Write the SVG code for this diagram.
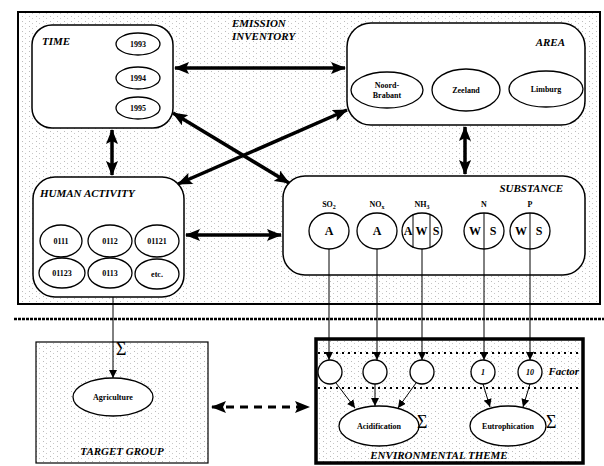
<svg xmlns="http://www.w3.org/2000/svg" width="604" height="466" viewBox="0 0 604 466">
<style>
text{font-family:"Liberation Serif","Times New Roman",serif;font-weight:bold;fill:#000}
.ti{font-style:italic;font-size:11px}
.lab{font-size:8px;text-anchor:middle}
.box{fill:#fff;stroke:#000;stroke-width:1.5}
.ell{fill:#fff;stroke:#000;stroke-width:1.3}
.thick{stroke:#000;stroke-width:3.5;fill:none}
.thin{stroke:#000;stroke-width:1;fill:none}
.sig{font-size:18px;font-weight:normal}
.let{font-size:12px;text-anchor:middle}
</style>
<defs>
<pattern id="stip" width="7" height="5" patternUnits="userSpaceOnUse">
<rect width="7" height="5" fill="#fff"/>
<rect x="1" y="1" width="1" height="1" fill="#bbb"/>
<rect x="4" y="3" width="1" height="1" fill="#c8c8c8"/>
</pattern>
<marker id="ah" markerUnits="userSpaceOnUse" markerWidth="15" markerHeight="12" refX="14" refY="6" orient="auto-start-reverse">
<path d="M0,0 L15,6 L0,12 L3,6 z" fill="#000"/>
</marker>
<marker id="ta" markerUnits="userSpaceOnUse" markerWidth="8" markerHeight="8" refX="8" refY="4" orient="auto">
<path d="M0,0 L8,4 L0,8 z" fill="#000"/>
</marker>
</defs>
<rect width="604" height="466" fill="#fff"/>
<g id="emission-inventory">
<rect x="18" y="12" width="582" height="292" fill="url(#stip)" stroke="#000" stroke-width="2"/>
<text class="ti" x="232" y="27" font-size="12">EMISSION</text>
<text class="ti" x="232" y="40" font-size="12">INVENTORY</text>
</g>
<line x1="14" y1="319" x2="604" y2="319" stroke="#000" stroke-width="2.5" stroke-dasharray="3 1"/>
<g id="time">
<rect class="box" x="32" y="25" width="141" height="103" rx="20"/>
<text class="ti" x="42" y="45">TIME</text>
<ellipse class="ell" cx="138" cy="44" rx="22" ry="11"/>
<text class="lab" x="138" y="47">1993</text>
<ellipse class="ell" cx="138" cy="78" rx="22" ry="11"/>
<text class="lab" x="138" y="81">1994</text>
<ellipse class="ell" cx="138" cy="108" rx="22" ry="11"/>
<text class="lab" x="138" y="111">1995</text>
</g>
<g id="area">
<rect class="box" x="347" y="23" width="238" height="102" rx="24"/>
<text class="ti" x="565" y="46" text-anchor="end">AREA</text>
<ellipse class="ell" cx="387" cy="90" rx="36" ry="18"/>
<text class="lab" x="387" y="88">Noord-</text>
<text class="lab" x="387" y="98">Brabant</text>
<ellipse class="ell" cx="466" cy="90" rx="34" ry="21"/>
<text class="lab" x="466" y="93">Zeeland</text>
<ellipse class="ell" cx="546" cy="89" rx="37" ry="18"/>
<text class="lab" x="546" y="92">Limburg</text>
</g>
<g id="human-activity">
<rect class="box" x="33" y="177" width="151" height="120" rx="22"/>
<text class="ti" x="40" y="197">HUMAN ACTIVITY</text>
<ellipse class="ell" cx="61" cy="241" rx="21" ry="16"/>
<text class="lab" x="61" y="244">0111</text>
<ellipse class="ell" cx="110" cy="241" rx="22" ry="16"/>
<text class="lab" x="110" y="244">0112</text>
<ellipse class="ell" cx="157" cy="241" rx="22" ry="16"/>
<text class="lab" x="157" y="244">01121</text>
<ellipse class="ell" cx="62" cy="273" rx="23" ry="15"/>
<text class="lab" x="62" y="276">01123</text>
<ellipse class="ell" cx="110" cy="273" rx="22" ry="15"/>
<text class="lab" x="110" y="276">0113</text>
<ellipse class="ell" cx="157" cy="274" rx="22" ry="15"/>
<text class="lab" x="157" y="277">etc.</text>
</g>
<g id="substance">
<rect class="box" x="283" y="176" width="302" height="99" rx="22"/>
<text class="ti" x="563" y="192" text-anchor="end">SUBSTANCE</text>
<text class="lab" x="329" y="207">SO<tspan font-size="6" dy="2">2</tspan></text>
<text class="lab" x="377" y="207">NO<tspan font-size="6" dy="2">x</tspan></text>
<text class="lab" x="422" y="207">NH<tspan font-size="6" dy="2">3</tspan></text>
<text class="lab" x="484" y="207">N</text>
<text class="lab" x="530" y="207">P</text>
<ellipse class="ell" cx="329" cy="231" rx="20" ry="18"/>
<text class="let" x="329" y="235">A</text>
<ellipse class="ell" cx="377" cy="231" rx="20" ry="18"/>
<text class="let" x="377" y="235">A</text>
<ellipse class="ell" cx="422" cy="231" rx="20" ry="18"/>
<line class="thin" x1="413" y1="214" x2="413" y2="248"/>
<line class="thin" x1="430" y1="214" x2="430" y2="248"/>
<text class="let" x="408" y="235" font-size="10">A</text>
<text class="let" x="421.5" y="235" font-size="10">W</text>
<text class="let" x="436" y="235" font-size="10">S</text>
<ellipse class="ell" cx="484" cy="231" rx="20" ry="18"/>
<line class="thin" x1="484" y1="213" x2="484" y2="249"/>
<text class="let" x="475" y="235">W</text>
<text class="let" x="493" y="235">S</text>
<ellipse class="ell" cx="530" cy="231" rx="20" ry="18"/>
<line class="thin" x1="530" y1="213" x2="530" y2="249"/>
<text class="let" x="521" y="235">W</text>
<text class="let" x="539" y="235">S</text>
</g>
<g id="target-group">
<rect x="36" y="342" width="172" height="121" fill="url(#stip)" stroke="#000" stroke-width="1.2"/>
<ellipse class="ell" cx="113" cy="397" rx="40" ry="19"/>
<text class="lab" x="113" y="400">Agriculture</text>
<text class="ti" x="122" y="455" text-anchor="middle" font-size="12">TARGET GROUP</text>
</g>
<g id="environmental-theme">
<rect x="316" y="339" width="267" height="124" fill="url(#stip)" stroke="#000" stroke-width="3.5"/>
<line x1="318" y1="353" x2="581" y2="353" stroke="#000" stroke-width="2" stroke-dasharray="2 4"/>
<line x1="318" y1="388" x2="581" y2="388" stroke="#000" stroke-width="2" stroke-dasharray="2 4"/>
<circle class="ell" cx="330" cy="372" r="12"/>
<circle class="ell" cx="375" cy="372" r="12"/>
<circle class="ell" cx="422" cy="372" r="12"/>
<circle class="ell" cx="483" cy="372" r="12"/>
<text class="lab" x="483" y="375" font-style="italic">1</text>
<circle class="ell" cx="530" cy="372" r="12"/>
<text class="lab" x="530" y="375" font-style="italic">10</text>
<text class="ti" x="579" y="375" text-anchor="end" font-size="8">Factor</text>
<ellipse class="ell" cx="379" cy="426" rx="40" ry="20"/>
<text class="lab" x="379" y="429">Acidification</text>
<ellipse class="ell" cx="508" cy="426" rx="38" ry="20"/>
<text class="lab" x="508" y="429">Eutrophication</text>
<text class="sig" x="417" y="428">Σ</text>
<text class="sig" x="546" y="428">Σ</text>
<text class="ti" x="439" y="459" text-anchor="middle" font-size="14">ENVIRONMENTAL THEME</text>
</g>
<g id="connectors">
<line class="thick" x1="175" y1="68" x2="345" y2="68" marker-start="url(#ah)" marker-end="url(#ah)"/>
<line class="thick" x1="112" y1="130" x2="112" y2="175" marker-start="url(#ah)" marker-end="url(#ah)"/>
<line class="thick" x1="465" y1="127" x2="465" y2="174" marker-start="url(#ah)" marker-end="url(#ah)"/>
<line class="thick" x1="186" y1="235" x2="281" y2="235" marker-start="url(#ah)" marker-end="url(#ah)"/>
<line class="thick" x1="173" y1="113" x2="289" y2="183" marker-start="url(#ah)" marker-end="url(#ah)"/>
<line class="thick" x1="178" y1="184" x2="347" y2="110" marker-start="url(#ah)" marker-end="url(#ah)"/>
<line class="thin" x1="113" y1="297" x2="113" y2="378" marker-end="url(#ta)"/>
<text class="sig" x="116" y="355">Σ</text>
<line class="thin" x1="329" y1="249" x2="329" y2="360" marker-end="url(#ta)"/>
<line class="thin" x1="377" y1="249" x2="377" y2="360" marker-end="url(#ta)"/>
<line class="thin" x1="422" y1="249" x2="422" y2="360" marker-end="url(#ta)"/>
<line class="thin" x1="484" y1="249" x2="484" y2="360" marker-end="url(#ta)"/>
<line class="thin" x1="530" y1="249" x2="530" y2="360" marker-end="url(#ta)"/>
<line class="thin" x1="336" y1="383" x2="355" y2="408" marker-end="url(#ta)"/>
<line class="thin" x1="375" y1="384" x2="375" y2="406" marker-end="url(#ta)"/>
<line class="thin" x1="416" y1="383" x2="398" y2="408" marker-end="url(#ta)"/>
<line class="thin" x1="483" y1="384" x2="490" y2="407" marker-end="url(#ta)"/>
<line class="thin" x1="530" y1="384" x2="523" y2="407" marker-end="url(#ta)"/>
<line x1="212" y1="407" x2="309" y2="407" stroke="#000" stroke-width="3" stroke-dasharray="8 6" marker-start="url(#ah)" marker-end="url(#ah)"/>
</g>
</svg>
